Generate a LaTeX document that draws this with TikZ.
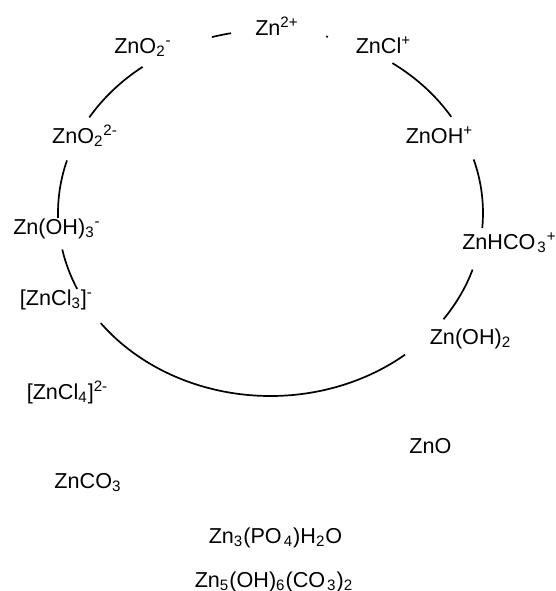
\documentclass[tikz,border=0pt]{standalone}
\usepackage{fontspec}
\setmainfont{Liberation Sans}
\usepackage{amsmath}
\usepackage{tikz}

\begin{document}
\begin{tikzpicture}[x=0.5pt, y=-0.5pt,
  species/.style={anchor=base, inner sep=0pt,
                  font=\fontsize{10.8pt}{13pt}\selectfont},
  ring/.style={line width=0.85pt, black},
  rad/.style={x radius=106.25pt, y radius=91.5pt},
]
  \useasboundingbox (0,0) rectangle (556,591);
  \coordinate (c) at (270.5,213);

  % species round the ring
  \node[species] (zn)     at (277,35)    {Zn$^{\text{2+}}$};
  \node[species] (zno2)   at (143,53)    {ZnO$_{\text{2}}{}^{\text{-}}$};
  \node[species] (zncl)   at (383.5,53)  {ZnCl$^{\text{+}}$};
  \node[species] (zno22)  at (85,143)    {ZnO$_{\text{2}}{}^{\text{2-}}$};
  \node[species] (znoh)   at (439.5,143) {ZnOH$^{\text{+}}$};
  \node[species] (znoh3)  at (57,234)    {Zn(OH)$_{\text{3}}{}^{\text{-}}$};
  \node[species] (znhco3) at (509.5,249) {ZnHCO\kern1pt$_{\text{3}}{}^{\text{+}}$};
  \node[species] (zncl3)  at (56.5,305)  {[ZnCl$_{\text{3}}$]$^{\text{-}}$};
  \node[species] (znoh2)  at (470.5,344) {Zn(OH)$_{\text{2}}$};

  % species outside the ring
  \node[species] (zncl4)  at (67.5,399)  {[ZnCl$_{\text{4}}$]$^{\text{2-}}$};
  \node[species] (zno)    at (430.5,453) {ZnO};
  \node[species] (znco3)  at (88,488)    {ZnCO$_{\text{3}}$};
  \node[species] (znpo4)  at (275.5,543) {Zn$_{\text{3}}$(PO\kern1pt$_{\text{4}}$)H$_{\text{2}}$O};
  \node[species] (znoh6)  at (274,587)   {Zn$_{\text{5}}$(OH)$_{\text{6}}$(CO\kern1pt$_{\text{3}}$)$_{\text{2}}$};

  % ring segments between the species
  \draw[ring] (c) ++(100.7:106.25pt and 91.5pt) arc[rad, start angle=100.7, end angle=106];
  \draw[ring] (c) ++(74.3:106.25pt and 91.5pt) arc[rad, start angle=74.3, end angle=74.8];
  \draw[ring] (c) ++(31.7:106.25pt and 91.5pt) arc[rad, start angle=31.7, end angle=55];
  \draw[ring] (c) ++(-4.7:106.25pt and 91.5pt) arc[rad, start angle=-4.7, end angle=17];
  \draw[ring] (c) ++(-35.5:106.25pt and 91.5pt) arc[rad, start angle=-35.5, end angle=-18];
  \draw[ring] (c) ++(-143:106.25pt and 91.5pt) arc[rad, start angle=-143, end angle=-50.7];
  \draw[ring] (c) ++(191.5:106.25pt and 91.5pt) arc[rad, start angle=191.5, end angle=204.5];
  \draw[ring] (c) ++(163.3:106.25pt and 91.5pt) arc[rad, start angle=163.3, end angle=181.5];
  \draw[ring] (c) ++(127:106.25pt and 91.5pt) arc[rad, start angle=127, end angle=148.5];
\end{tikzpicture}
\end{document}
